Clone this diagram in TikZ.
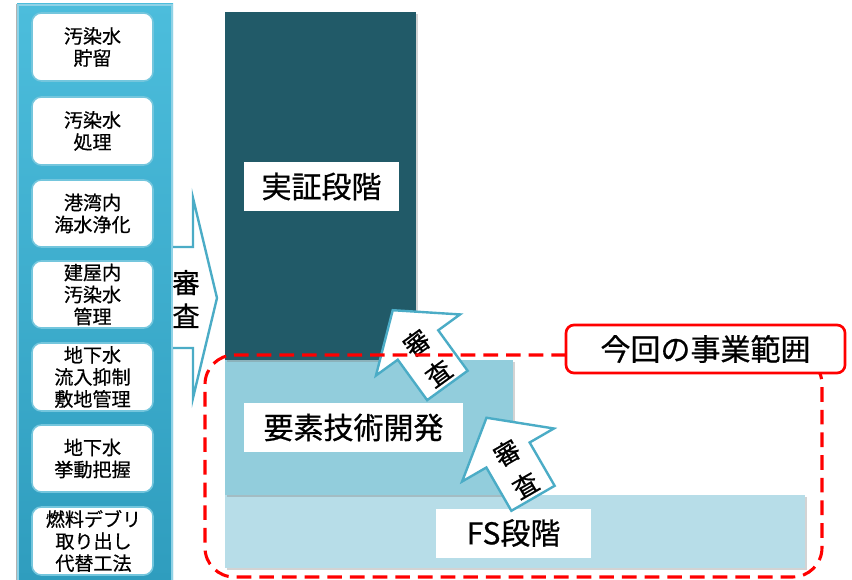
\documentclass[tikz,border=0pt]{standalone}
\usepackage{fontspec}
\setmainfont{Noto Sans CJK JP}[FakeBold=0.6]
\usetikzlibrary{shadows}
\definecolor{colA}{HTML}{3DB0D0}
\definecolor{colAtop}{HTML}{4CBDDC}
\definecolor{colAbot}{HTML}{2F9DBE}
\definecolor{colEdge}{HTML}{8FD2E6}
\definecolor{halo}{HTML}{74C6DD}
\definecolor{darkteal}{HTML}{215A68}
\definecolor{midblue}{HTML}{92CDDC}
\definecolor{lightblue}{HTML}{B7DDE8}
\definecolor{arrowline}{HTML}{4BACC6}
\definecolor{scopered}{HTML}{FF0000}
\tikzset{
  itembox/.style={draw=halo, line width=1.2pt, fill=white, rounded corners=7pt},
  itemtext/.style={align=center, font=\fontsize{14.3}{16.5}\selectfont, inner sep=0pt},
  stagelabel/.style={fill=white, inner sep=0pt, font=\fontsize{22.5}{25}\selectfont},
  reviewarrow/.style={draw=arrowline, line width=1.8pt, fill=white, line join=miter},
  reviewtext/.style={align=center, font=\fontsize{19}{28}\selectfont, inner sep=0pt},
}
\begin{document}
\begin{tikzpicture}[x=0.75pt,y=-0.75pt]
\useasboundingbox (0,0) rectangle (852,580);
% left column
\shade[top color=colAtop, bottom color=colAbot] (17,4) rectangle (173,582);
\draw[colEdge, line width=1pt] (18,585) -- (18,5) -- (172,5) -- (172,585);
\draw[gray!60, line width=0.6pt] (16.5,4) -- (16.5,582);
% item boxes
\foreach \ya/\yb in {13/81, 97/165, 180/247, 261/328, 343/411, 425/492, 507/575}{
  \draw[itembox] (32,\ya) rectangle (153,\yb);
}
\node[itemtext] (t1) at (92.5,47) {汚染水\\貯留};
\node[itemtext] (t2) at (92.5,131) {汚染水\\処理};
\node[itemtext] (t3) at (92.5,213.5) {港湾内\\海水浄化};
\node[itemtext] (t4) at (92.5,294.5) {建屋内\\汚染水\\管理};
\node[itemtext] (t5) at (92.5,377) {地下水\\流入抑制\\敷地管理};
\node[itemtext] (t6) at (92.5,458.5) {地下水\\挙動把握};
\node[itemtext] (t7) at (93.5,541) {燃料デブリ\\取り出し\\代替工法};
% right-pointing review arrow
\fill[white] (173,247) -- (193,247) -- (193,198) -- (217,298) -- (193,398) -- (193,348) -- (173,348) -- cycle;
\draw[arrowline, line width=1.8pt, line join=miter] (173,247) -- (193,247) -- (193,198) -- (217,298) -- (193,398) -- (193,348) -- (173,348);
\node[reviewtext, font=\fontsize{20.5}{25}\selectfont] (rv0) at (186,299) {審\\査};
% stage rectangles
\fill[lightblue, drop shadow={opacity=0.35, shadow xshift=1.5pt, shadow yshift=-1.5pt}] (225,495) rectangle (805,568);
\fill[midblue, drop shadow={opacity=0.35, shadow xshift=1.5pt, shadow yshift=-1.5pt}] (225,360) rectangle (513,495);
\fill[darkteal, drop shadow={opacity=0.35, shadow xshift=1.5pt, shadow yshift=-1.5pt}] (225,12) rectangle (416,360);
\node[stagelabel, minimum width=155*0.75pt, minimum height=49*0.75pt] (s1) at (321.5,186.5) {実証段階};
\node[stagelabel, minimum width=219*0.75pt, minimum height=49*0.75pt] (s2) at (353.5,427.5) {要素技術開発};
\node[stagelabel, minimum width=155*0.75pt, minimum height=49*0.75pt] (s3) at (513.5,533) {FS段階};
% tilted review arrows
\begin{scope}[shift={(418,345)}, rotate=36]
  \draw[reviewarrow] (0,-43) -- (52,0) -- (25,0) -- (25,50) -- (-25,50) -- (-25,0) -- (-52,0) -- cycle;
  \node[reviewtext, rotate=36] (rv1) at (0,16) {審\\査};
\end{scope}
\begin{scope}[shift={(508,455)}, rotate=30]
  \draw[reviewarrow] (0,-43) -- (53,0) -- (25,0) -- (25,50) -- (-25,50) -- (-25,0) -- (-53,0) -- cycle;
  \node[reviewtext, rotate=30] (rv2) at (0,16) {審\\査};
\end{scope}
% scope of this project
\draw[scopered, line width=2.3pt, dash pattern=on 11pt off 6pt, rounded corners=22pt]
  (566,355) -- (205,355) -- (205,577) -- (822,577) -- (822,355) -- (800,355);
\node[draw=scopered, line width=2pt, fill=white, rounded corners=6pt, minimum width=279*0.75pt, minimum height=48*0.75pt, inner sep=0pt, font=\fontsize{22.5}{25}\selectfont] (scope) at (705.5,349) {今回の事業範囲};
\end{tikzpicture}
\end{document}
